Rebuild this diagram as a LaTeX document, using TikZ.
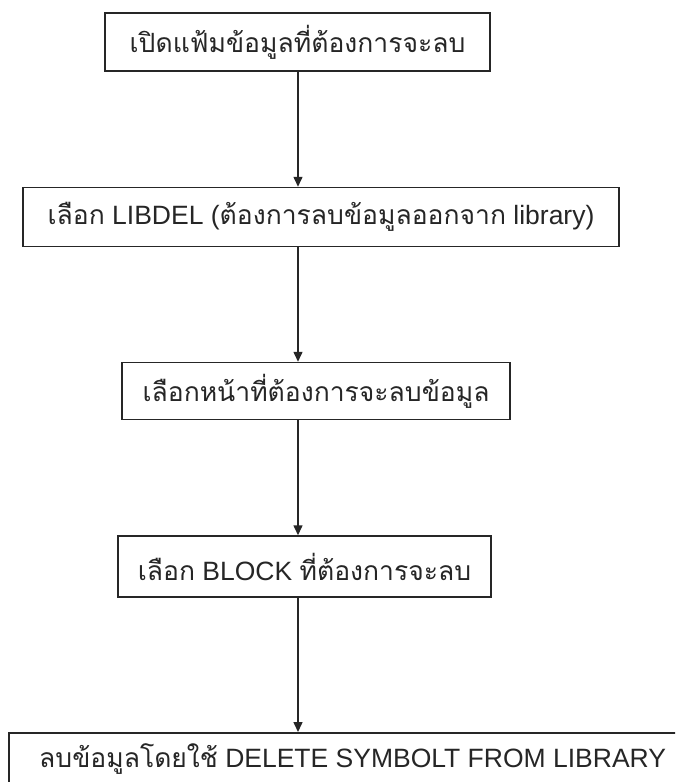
\documentclass[tikz,border=0pt]{standalone}
\usepackage{fontspec}
\setmainfont{Liberation Sans}
\newfontfamily\thai[Script=Thai,Scale=1.0]{Loma}
\usetikzlibrary{arrows.meta}
\tikzset{
  stepbox/.style={draw=black!85, line width=1.5pt, minimum height=58pt, inner sep=0pt, font=\fontsize{26.5}{30}\selectfont, text=black!85},
  arr/.style={draw=black!85, line width=1.5pt, -{Triangle[length=10pt,width=9pt]}}
}
\begin{document}
\begin{tikzpicture}[x=1pt,y=-1pt]
\useasboundingbox (0,0) rectangle (675,782);
\fill[white] (0,0) rectangle (675,782);
\coordinate (ax) at (298,0);
\node[stepbox, minimum width=385pt] (b1) at (297.5,42) {\thai เปิดแฟ้มข้อมูลที่ต้องการจะลบ};
\node[stepbox, minimum width=596pt, minimum height=59pt] (b2) at (321,217) {{\thai เลือก} LIBDEL ({\thai ต้องการลบข้อมูลออกจาก} library)};
\node[stepbox, minimum width=388pt, minimum height=57pt] (b3) at (316,391) {\thai เลือกหน้าที่ต้องการจะลบข้อมูล};
\node[stepbox, minimum width=373pt, minimum height=61pt] (b4) at (304.5,566.5) {{\thai เลือก} BLOCK {\thai ที่ต้องการจะลบ}};
\begin{scope}
\clip (0,0) rectangle (675,782);
\node[stepbox, minimum width=690pt, minimum height=70pt, anchor=north west] (b5) at (8,732) {};
\end{scope}
\node[anchor=base west, inner sep=0pt, font=\fontsize{26.5}{30}\selectfont, text=black!85] (t5) at (39,767) {{\thai ลบข้อมูลโดยใช้} DELETE SYMBOLT FROM LIBRARY};
\draw[arr] (b1.south -| ax) -- (b2.north -| ax);
\draw[arr] (b2.south -| ax) -- (b3.north -| ax);
\draw[arr] (b3.south -| ax) -- (b4.north -| ax);
\draw[arr] (b4.south -| ax) -- (b5.north -| ax);
\end{tikzpicture}
\end{document}
